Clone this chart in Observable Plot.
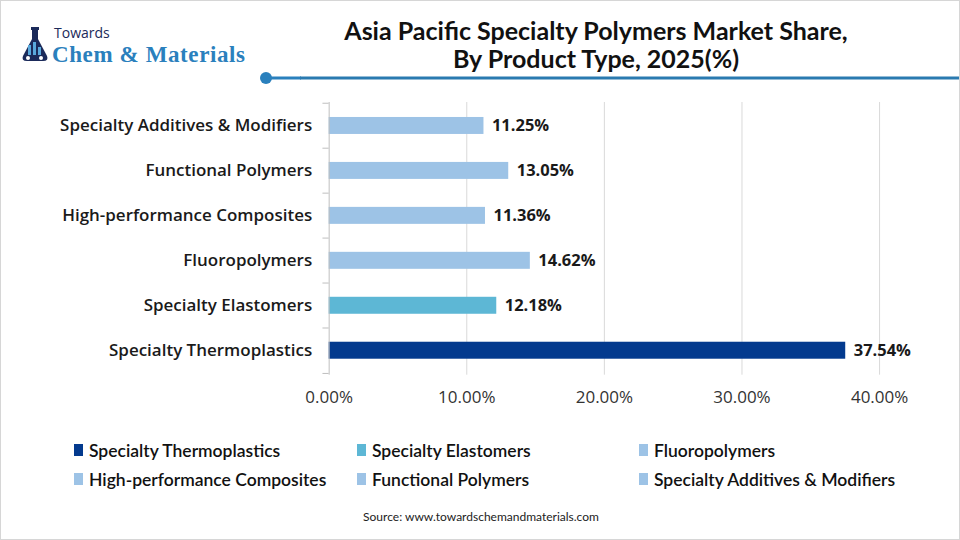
<!DOCTYPE html>
<html>
<head>
<meta charset="utf-8">
<script src="https://cdn.jsdelivr.net/npm/d3@7"></script>
<script src="https://cdn.jsdelivr.net/npm/@observablehq/plot@0.6"></script>
<style>
  html, body { margin: 0; padding: 0; background: #fff; }
  #page { position: relative; width: 958px; height: 538px; border: 1px solid #d6d6d6; overflow: hidden; background: #fff; font-family: "Open Sans", sans-serif; }
  .tline { position: absolute; left: 300px; width: 590px; text-align: center; font-family: Lato, sans-serif; font-weight: bold; font-size: 25px; line-height: 26px; color: #111; }
  #chart { position: absolute; left: -1px; top: 89px; }
  #legend { position: absolute; left: 73px; top: 439px; display: grid; grid-template-columns: 283px 282px 300px; row-gap: 9px; font-family: Lato, sans-serif; font-weight: 600; font-size: 17.5px; color: #111; }
  .item { display: flex; align-items: center; height: 20px; white-space: nowrap; }
  .sw { width: 9px; height: 12px; margin-right: 6px; }
  #source { position: absolute; left: 0; width: 960px; top: 508px; text-align: center; font-family: Lato, sans-serif; font-size: 12px; color: #222; }
  #logo { position: absolute; left: 0; top: 0; }
</style>
</head>
<body>
<div id="page">
  <svg id="logo" width="300" height="90">
    <g fill="#1b2a5a">
      <rect x="30" y="26" width="8" height="3"/>
      <rect x="31" y="29" width="6" height="10"/>
      <path d="M31 38 L22 55 Q20 60 26 60 L42 60 Q48 60 46 55 L37 38 Z"/>
    </g>
    <g fill="#5aa9dc">
      <rect x="27" y="44" width="3" height="10"/>
      <rect x="32" y="41" width="3" height="13"/>
      <rect x="37" y="46" width="3" height="8"/>
    </g>
    <circle cx="27" cy="57" r="2" fill="#fff"/>
    <circle cx="40" cy="57" r="2" fill="#fff"/>
    <text x="53" y="37" font-family="Open Sans, sans-serif" font-size="14" fill="#1b2a5a">Towards</text>
    <text x="51" y="61" font-family="Liberation Serif, serif" font-weight="bold" font-size="23" textLength="193" fill="#2a80bd">Chem &amp; Materials</text>
    <line x1="265" y1="77" x2="300" y2="77" stroke="#2a80bd" stroke-width="3"/>
    <circle cx="265" cy="77" r="6" fill="#2a80bd"/>
  </svg>
  <svg style="position:absolute;left:299px;top:0" width="661" height="90"><line x1="0" y1="77" x2="661" y2="77" stroke="#2a7ab0" stroke-width="3"/></svg>
  <div class="tline" style="top:16px">Asia Pacific Specialty Polymers Market Share,</div>
  <div class="tline" style="top:44px">By Product Type, 2025(%)</div>
  <div id="chart"></div>
  <div id="legend"></div>
  <div id="source">Source: www.towardschemandmaterials.com</div>
</div>
<script>
// Data
const categories = [
  "Specialty Additives & Modifiers",
  "Functional Polymers",
  "High-performance Composites",
  "Fluoropolymers",
  "Specialty Elastomers",
  "Specialty Thermoplastics"
];
const values = [11.25, 13.05, 11.36, 14.62, 12.18, 37.54];
const barColors = ["#9dc3e6", "#9dc3e6", "#9dc3e6", "#9dc3e6", "#5db7d5", "#033a8e"];
const legendOrder = [
  "Specialty Thermoplastics", "Specialty Elastomers", "Fluoropolymers",
  "High-performance Composites", "Functional Polymers", "Specialty Additives & Modifiers"
];
const xTicks = [0, 10, 20, 30, 40];

const data = categories.map((c, i) => ({category: c, value: values[i], color: barColors[i]}));
const colorOf = Object.fromEntries(data.map(d => [d.category, d.color]));

const width = 960, height = 325;
const marginTop = 12, marginBottom = 40, marginLeft = 329, marginRight = 80;
const step = (height - marginTop - marginBottom) / categories.length;
const pad = 0.62;
const pct = d => d.toFixed(2) + "%";

const chart = Plot.plot({
  width, height, marginTop, marginBottom, marginLeft, marginRight,
  style: {fontFamily: "Open Sans, sans-serif", background: "transparent"},
  x: {domain: [0, 40], ticks: xTicks, tickFormat: pct, label: null},
  y: {domain: categories, paddingInner: pad, paddingOuter: pad / 2, label: null},
  marks: [
    Plot.ruleX([10, 20, 30, 40], {stroke: "#d9d9d9", strokeWidth: 1}),
    Plot.barX(data, {y: "category", x: "value", fill: "color"}),
    Plot.ruleX([0], {stroke: "#bfbfbf", strokeWidth: 1}),
    Plot.ruleY(categories, {y: d => d, x1: -0.45, x2: 0, dy: -step / 2, stroke: "#bfbfbf"}),
    Plot.ruleY([categories[categories.length - 1]], {y: d => d, x1: -0.45, x2: 0, dy: step / 2, stroke: "#bfbfbf"}),
    Plot.text(data, {y: "category", x: "value", text: d => pct(d.value), textAnchor: "start", dx: 8, fontWeight: "bold", fontSize: 16.5, fill: "#1a1a1a"}),
    Plot.axisX({ticks: xTicks, tickSize: 0, tickPadding: 16, fontSize: 17, fill: "#333", tickFormat: pct, label: null}),
    Plot.axisY({tickSize: 0, tickPadding: 17, fontSize: 17, fontWeight: 600, fill: "#1a1a1a", label: null})
  ]
});
document.getElementById("chart").appendChild(chart);

const legend = document.getElementById("legend");
for (const name of legendOrder) {
  const item = document.createElement("div");
  item.className = "item";
  const sw = document.createElement("span");
  sw.className = "sw";
  sw.style.background = colorOf[name];
  const t = document.createElement("span");
  t.textContent = name;
  item.appendChild(sw);
  item.appendChild(t);
  legend.appendChild(item);
}
</script>
</body>
</html>
